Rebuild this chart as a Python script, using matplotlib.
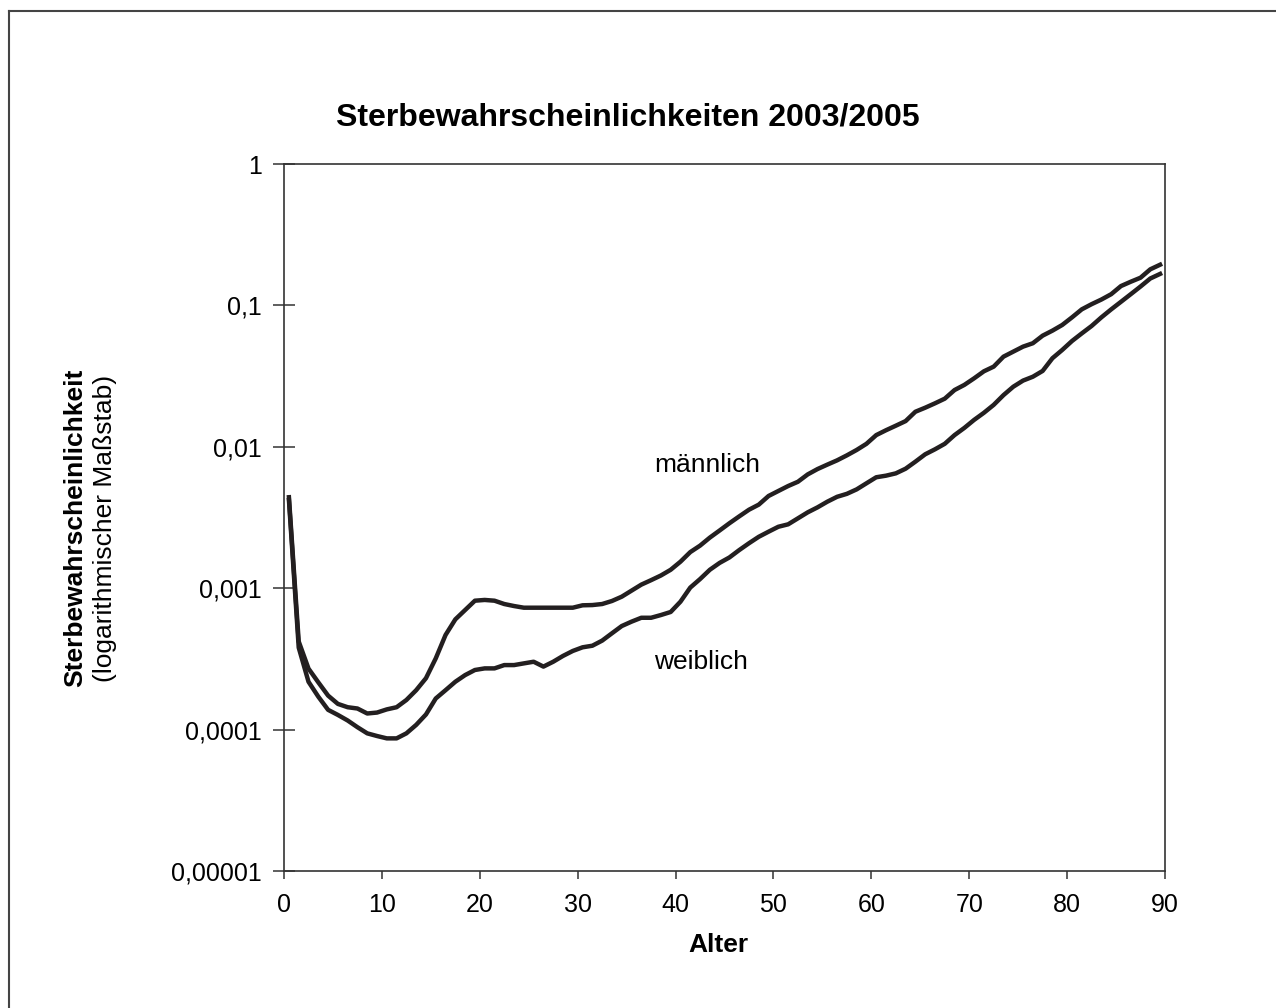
import numpy as np
import matplotlib
matplotlib.use('Agg')
import matplotlib.pyplot as plt
from matplotlib.lines import Line2D
from matplotlib.ticker import FixedLocator, FuncFormatter

plt.rcParams['font.family'] = ['Liberation Sans', 'DejaVu Sans']

# Alter 0..89
alter = np.arange(0, 90)

maennlich = [
    0.0044, 0.00042, 0.00027, 0.000216, 0.000174, 0.000152, 0.000144, 0.000141, 0.00013, 0.000132,
    0.000139, 0.000144, 0.000162, 0.00019, 0.000231, 0.000319, 0.000467, 0.000602, 0.000701, 0.000816,
    0.000826, 0.000816, 0.000773, 0.000748, 0.000728, 0.000728, 0.000728, 0.000728, 0.000728, 0.000728,
    0.000757, 0.00076, 0.000773, 0.000812, 0.000871, 0.000961, 0.00106, 0.00114, 0.00123, 0.00135,
    0.00154, 0.0018, 0.002, 0.00228, 0.00256, 0.00288, 0.00322, 0.00359, 0.0039, 0.00449,
    0.00487, 0.00528, 0.00566, 0.00638, 0.00696, 0.00748, 0.00802, 0.0087, 0.0095, 0.0105,
    0.0121, 0.0131, 0.0141, 0.0152, 0.0177, 0.0189, 0.0203, 0.0219, 0.0252, 0.0274,
    0.0305, 0.0342, 0.0369, 0.0434, 0.0471, 0.0511, 0.054, 0.0611, 0.0663, 0.0727,
    0.0823, 0.0938, 0.102, 0.110, 0.120, 0.137, 0.147, 0.157, 0.18, 0.194,
]

weiblich = [
    0.0042, 0.00038, 0.000218, 0.000171, 0.000138, 0.000127, 0.000116, 0.000104, 0.0000941, 0.0000901,
    0.0000867, 0.0000867, 0.0000941, 0.000108, 0.000128, 0.000166, 0.00019, 0.000218, 0.000243, 0.000264,
    0.000271, 0.000271, 0.000286, 0.000286, 0.000294, 0.000302, 0.000279, 0.000302, 0.000332, 0.00036,
    0.000382, 0.000392, 0.000426, 0.00048, 0.00054, 0.00058, 0.000618, 0.000618, 0.000646, 0.000679,
    0.000803, 0.00101, 0.00116, 0.00135, 0.00151, 0.00165, 0.00186, 0.00208, 0.00231, 0.00251,
    0.00272, 0.00283, 0.00312, 0.00344, 0.00373, 0.00409, 0.00443, 0.00465, 0.005, 0.00552,
    0.00609, 0.00625, 0.00649, 0.007, 0.00785, 0.00885, 0.0096, 0.0105, 0.0121, 0.0136,
    0.0155, 0.0174, 0.0198, 0.0232, 0.0266, 0.0294, 0.0313, 0.0344, 0.0423, 0.0484,
    0.056, 0.0634, 0.0715, 0.0823, 0.0937, 0.106, 0.12, 0.136, 0.155, 0.167,
]

y_ticks = [0.00001, 0.0001, 0.001, 0.01, 0.1, 1]
x_ticks = [0, 10, 20, 30, 40, 50, 60, 70, 80, 90]


def german_fmt(v, pos):
    # Dezimalkomma wie im Original
    s = ('%.5f' % v).rstrip('0').rstrip('.')
    return s.replace('.', ',')


fig = plt.figure(figsize=(12.76, 10.08), dpi=100)
ax = fig.add_axes([0.2226, 0.1359, 0.6904, 0.7014])

line_color = '#231f20'
# Werte jeweils in der Mitte des Altersjahres
ax.plot(alter + 0.5, maennlich, color=line_color, lw=3.2, solid_joinstyle='round')
ax.plot(alter + 0.5, weiblich, color=line_color, lw=3.2, solid_joinstyle='round')

ax.set_yscale('log')
ax.set_ylim(0.00001, 1)
ax.set_xlim(0, 90)
ax.yaxis.set_major_locator(FixedLocator(y_ticks))
ax.yaxis.set_minor_locator(FixedLocator([]))
ax.yaxis.set_major_formatter(FuncFormatter(german_fmt))
ax.set_xticks(x_ticks)

for sp in ax.spines.values():
    sp.set_color('#333333')
    sp.set_linewidth(1.2)

ax.tick_params(axis='y', direction='inout', length=16, width=1.1, color='#333333',
               labelsize=18, pad=8)
ax.tick_params(axis='x', direction='out', length=6, width=1.1, color='#333333',
               labelsize=18, pad=10)

ax.text(43.2, 0.0074, 'männlich', fontsize=19, ha='center', va='center')
ax.text(42.6, 0.0003, 'weiblich', fontsize=19, ha='center', va='center')

fig.text(0.492, 0.883, 'Sterbewahrscheinlichkeiten 2003/2005', fontsize=23,
         fontweight='bold', ha='center', va='center')
fig.text(0.5627, 0.0625, 'Alter', fontsize=19, fontweight='bold', ha='center', va='center')
fig.text(0.059, 0.476, 'Sterbewahrscheinlichkeit', fontsize=19, fontweight='bold',
         rotation=90, ha='center', va='center')
fig.text(0.082, 0.476, '(logarithmischer Maßstab)', fontsize=19,
         rotation=90, ha='center', va='center')

# Rahmen links und oben
fig.add_artist(Line2D([0.0071, 0.0071], [0, 0.989], transform=fig.transFigure,
                      color='#444444', lw=1.5))
fig.add_artist(Line2D([0.0071, 1], [0.989, 0.989], transform=fig.transFigure,
                      color='#444444', lw=1.5))

fig.savefig('out.png', dpi=100)
